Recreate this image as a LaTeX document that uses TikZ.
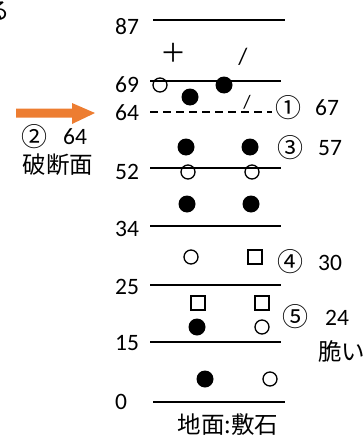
\documentclass[tikz,border=0pt]{standalone}
\usepackage{fontspec}
\setmainfont{Carlito}
\newfontfamily\jp{Noto Sans CJK JP}
\definecolor{arrorange}{RGB}{237,125,49}
\begin{document}
\begin{tikzpicture}[x=1pt,y=-1pt,
  font=\fontsize{23.5}{26}\selectfont,
  lvl/.style={line width=2pt},
  dlvl/.style={line width=2pt, dash pattern=on 8pt off 5pt},
  lab/.style={inner sep=0pt, anchor=west},
  txt/.style={inner sep=0pt},
  circnum/.style={inner sep=0pt, font=\jp\fontsize{26}{28}\selectfont},
  ocirc/.style={circle, draw, line width=1.3pt, minimum size=14pt, inner sep=0pt},
  fcirc/.style={circle, fill=black, minimum size=17pt, inner sep=0pt},
  osq/.style={rectangle, draw, line width=1.3pt, minimum size=14pt, inner sep=0pt}]
\useasboundingbox (0,0) rectangle (362,436);

% cropped character at top-left
\node[txt] (ru) at (-2,11) {\jp る};

% level lines
\coordinate (l87a) at (153,20);  \coordinate (l87b) at (285,20);
\coordinate (l69a) at (150,81);  \coordinate (l69b) at (281,81);
\coordinate (l64a) at (150,112); \coordinate (l64b) at (272,112);
\coordinate (l52a) at (150,168); \coordinate (l52b) at (281,168);
\coordinate (l34a) at (150,226); \coordinate (l34b) at (281,226);
\coordinate (l25a) at (150,285); \coordinate (l25b) at (281,285);
\coordinate (l15a) at (150,342); \coordinate (l15b) at (281,342);
\coordinate (l0a) at (153,402);  \coordinate (l0b) at (285,402);
\draw[lvl] (l87a) -- (l87b);
\draw[lvl] (l69a) -- (l69b);
\draw[dlvl] (l64a) -- (l64b);
\draw[lvl] (l52a) -- (l52b);
\draw[lvl] (l34a) -- (l34b);
\draw[lvl] (l25a) -- (l25b);
\draw[lvl] (l15a) -- (l15b);
\draw[lvl] (l0a) -- (l0b);

% level labels
\node[lab] (t87) at (115,27) {87};
\node[lab] (t69) at (115,85) {69};
\node[lab] (t64) at (115,113) {64};
\node[lab] (t52) at (115,172) {52};
\node[lab] (t34) at (115,229) {34};
\node[lab] (t25) at (115,287) {25};
\node[lab] (t15) at (115,343) {15};
\node[lab] (t0) at (115,402) {0};

% marks
\node[txt, font=\jp\fontsize{26}{28}\selectfont] (plus) at (173,53) {＋};
\node[txt] (sl1) at (243,57) {/};
\node[ocirc] (c1) at (160,85) {};
\node[fcirc] (f1) at (224,85) {};
\node[fcirc] (f2) at (190,97) {};
\node[txt, font=\fontsize{19}{21}\selectfont] (sl2) at (247,102) {/};
\node[fcirc] (f3) at (186,147) {};
\node[fcirc] (f4) at (250,147) {};
\node[ocirc] (c2) at (188,172) {};
\node[ocirc] (c3) at (252,172) {};
\node[fcirc] (f5) at (187,204) {};
\node[fcirc] (f6) at (251,204) {};
\node[ocirc] (c4) at (191,257) {};
\node[osq] (s1) at (255,257) {};
\node[osq] (s2) at (198,303) {};
\node[osq] (s3) at (262,303) {};
\node[fcirc] (f7) at (197,327) {};
\node[ocirc] (c5) at (262,327) {};
\node[fcirc] (f8) at (205,379) {};
\node[ocirc] (c6) at (270,379) {};

% right annotations
\node[circnum] (n1) at (288,108) {①};
\node[txt] (v1) at (327,108) {67};
\node[circnum] (n3) at (290,148) {③};
\node[txt] (v3) at (330,148) {57};
\node[circnum] (n4) at (290,262) {④};
\node[txt] (v4) at (330,263) {30};
\node[circnum] (n5) at (295,317) {⑤};
\node[txt] (v5) at (337,318) {24};
\node[txt, anchor=west] (brit) at (318,351) {\jp 脆い};

% left annotations
\node[circnum] (n2) at (34,137) {②};
\node[txt] (v2) at (75,137) {64};
\node[txt] (hd) at (58,165) {\jp 破断面};
\node[txt] (gnd) at (228,425) {\jp 地面:敷石};

% orange arrow
\coordinate (atail) at (16,113);
\coordinate (atip) at (95,113);
\fill[arrorange] (atail) ++(0,-4.5) -- ++(56,0) -- ++(0,-5.5) -- (atip) -- (72,124) -- ++(0,-6.5) -- (16,117.5) -- cycle;
\end{tikzpicture}
\end{document}
